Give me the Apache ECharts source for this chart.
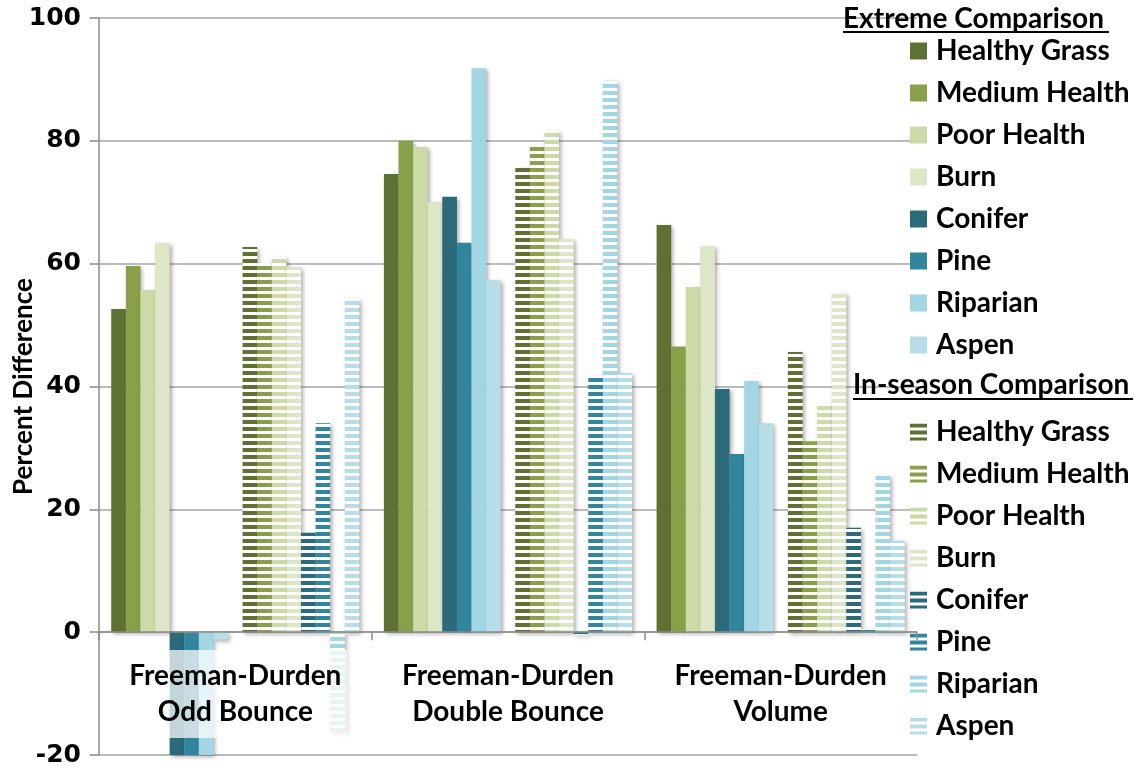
<!DOCTYPE html>
<html>
<head>
<meta charset="utf-8">
<script src="https://cdn.jsdelivr.net/npm/echarts@6/dist/echarts.min.js"></script>
<style>
  html, body { margin: 0; padding: 0; background: #ffffff; }
  #chart { width: 1146px; height: 774px; }
</style>
</head>
<body>
<div id="chart"></div>
<script>
// Polarimetric decomposition components on the category axis
const categories = ['Freeman-Durden\nOdd Bounce', 'Freeman-Durden\nDouble Bounce', 'Freeman-Durden\nVolume'];
const classes = ['Healthy Grass', 'Medium Health', 'Poor Health', 'Burn', 'Conifer', 'Pine', 'Riparian', 'Aspen'];
const classColors = ['#5f7033', '#8a9f4a', '#ccdaa8', '#dde6c7', '#2a6a7a', '#31859c', '#a3d6e3', '#b7dee8'];
const yTicks = { min: -20, max: 100, step: 20 };

// Percent difference per class, in the order of `classes`
const oddBounceExtreme      = [52.6, 59.6, 55.7, 63.4, -26.0, -28.0, -24.0, -1.2];
const oddBounceInSeason     = [62.7, 60.1, 61.1, 59.4, 16.2, 34.0, -16.2, 54.2];
const doubleBounceExtreme   = [74.6, 80.0, 79.0, 70.1, 70.9, 63.4, 91.8, 57.3];
const doubleBounceInSeason  = [75.6, 79.4, 81.6, 64.0, -0.4, 41.7, 89.8, 42.2];
const volumeExtreme         = [66.3, 46.5, 56.2, 62.8, 39.6, 29.0, 40.9, 34.0];
const volumeInSeason        = [45.6, 31.1, 37.3, 55.2, 17.0, 0.5, 25.5, 14.9];

const extremeRows = [oddBounceExtreme, doubleBounceExtreme, volumeExtreme];
const inSeasonRows = [oddBounceInSeason, doubleBounceInSeason, volumeInSeason];
const IN_SEASON = 'In-season ';

// Horizontal stripe fill used for the in-season bars
function stripes(color) {
  const c = document.createElement('canvas');
  c.width = 4; c.height = 7;
  const g = c.getContext('2d');
  g.fillStyle = '#ffffff';
  g.fillRect(0, 0, 4, 7);
  g.fillStyle = color;
  g.fillRect(0, 0, 4, 4);
  return { image: c, repeat: 'repeat' };
}

const shadow = { shadowBlur: 4, shadowColor: 'rgba(0,0,0,0.32)', shadowOffsetX: 2, shadowOffsetY: 2 };
const barCommon = { type: 'bar', barGap: 0, barCategoryGap: '9%' };

const series = [];
classes.forEach((name, i) => {
  series.push(Object.assign({}, barCommon, {
    name: name,
    data: extremeRows.map(r => r[i]),
    itemStyle: Object.assign({ color: classColors[i] }, shadow)
  }));
});
// empty slot separating the two comparison groups
series.push(Object.assign({}, barCommon, { name: 'gap', data: [null, null, null] }));
classes.forEach((name, i) => {
  series.push(Object.assign({}, barCommon, {
    name: IN_SEASON + name,
    data: inSeasonRows.map(r => r[i]),
    itemStyle: Object.assign({ color: stripes(classColors[i]) }, shadow)
  }));
});

const textFont = 'Lato';
const legendCommon = {
  orient: 'vertical',
  left: 910,
  padding: 0,
  itemWidth: 17,
  itemHeight: 17,
  itemGap: 12,
  icon: 'rect',
  selectedMode: false,
  textStyle: { fontFamily: textFont, fontWeight: 'bold', fontSize: 28, lineHeight: 30, color: '#000', padding: [0, 0, 0, 4] }
};

const chart = echarts.init(document.getElementById('chart'), null, { renderer: 'canvas' });
chart.setOption({
  animation: false,
  backgroundColor: '#ffffff',
  grid: { left: 99, right: 229, top: 18, bottom: 19, containLabel: false, outerBoundsMode: 'none' },
  xAxis: {
    type: 'category',
    data: categories,
    z: 5,
    axisLine: { onZero: true, lineStyle: { color: '#8c8c8c', width: 1.5 } },
    axisTick: { show: true, length: 8, lineStyle: { color: '#8c8c8c', width: 1.5 } },
    axisLabel: {
      interval: 0,
      margin: -105,
      fontFamily: textFont, fontWeight: 'bold', fontSize: 28, lineHeight: 36, color: '#000',
      backgroundColor: 'rgba(255,255,255,0.72)',
      padding: [8, 6, 8, 6]
    }
  },
  yAxis: {
    type: 'value',
    min: yTicks.min, max: yTicks.max, interval: yTicks.step,
    name: 'Percent Difference',
    nameLocation: 'middle',
    nameGap: 62,
    nameMoveOverlap: false,
    nameTextStyle: { fontFamily: textFont, fontWeight: 'bold', fontSize: 26, color: '#000' },
    axisLine: { show: true, lineStyle: { color: '#8c8c8c', width: 1.5 } },
    axisTick: { show: true, length: 9, lineStyle: { color: '#8c8c8c', width: 1.5 } },
    axisLabel: { fontFamily: 'DejaVu Sans', fontWeight: 'bold', fontSize: 25, color: '#000', margin: 18 },
    splitLine: { show: true, lineStyle: { color: '#a6a6a6', width: 1.5 } }
  },
  legend: [
    Object.assign({}, legendCommon, { top: 36, data: classes.slice() }),
    Object.assign({}, legendCommon, {
      top: 417,
      data: classes.map(n => IN_SEASON + n),
      formatter: n => n.replace(IN_SEASON, '')
    })
  ],
  graphic: [
    { type: 'text', left: 843, top: 5, z: 10,
      style: { text: 'Extreme Comparison', font: 'bold 28px Lato', fill: '#000' } },
    { type: 'line', z: 10, shape: { x1: 843, y1: 32, x2: 1109, y2: 32 }, style: { stroke: '#000', lineWidth: 2 } },
    { type: 'text', left: 853, top: 371, z: 10,
      style: { text: 'In-season Comparison', font: 'bold 28px Lato', fill: '#000' } },
    { type: 'line', z: 10, shape: { x1: 853, y1: 399, x2: 1133, y2: 399 }, style: { stroke: '#000', lineWidth: 2 } }
  ],
  series: series
});
</script>
</body>
</html>
